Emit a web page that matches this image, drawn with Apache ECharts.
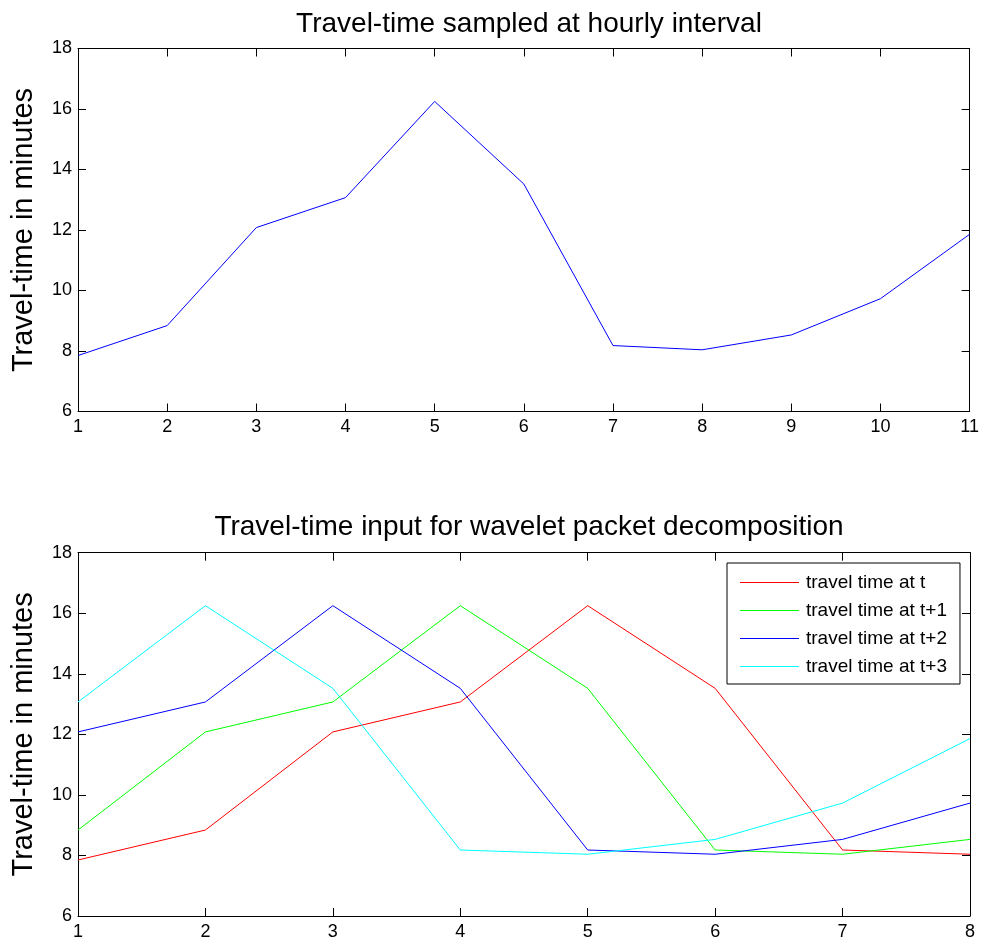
<!DOCTYPE html>
<html>
<head>
<meta charset="utf-8">
<script src="https://cdn.jsdelivr.net/npm/echarts@6/dist/echarts.min.js"></script>
<style>
html,body{margin:0;padding:0;background:#fff;}
#chart{width:982px;height:945px;}
</style>
</head>
<body>
<div id="chart"></div>
<script>
// ---- data ----
var hourLabels = ['1','2','3','4','5','6','7','8','9','10','11'];
var travelTime = [7.85, 8.84, 12.08, 13.07, 16.25, 13.52, 8.18, 8.04, 8.53, 9.73, 11.86];

var lagLabels = ['1','2','3','4','5','6','7','8'];
var tAt  = [7.85, 8.84, 12.08, 13.07, 16.25, 13.52, 8.18, 8.04];
var tAt1 = [8.84, 12.08, 13.07, 16.25, 13.52, 8.18, 8.04, 8.53];
var tAt2 = [12.08, 13.07, 16.25, 13.52, 8.18, 8.04, 8.53, 9.73];
var tAt3 = [13.07, 16.25, 13.52, 8.18, 8.04, 8.53, 9.73, 11.86];

var yMin = 6, yMax = 18, yStep = 2;
var titles = ['Travel-time sampled at hourly interval', 'Travel-time input for wavelet packet decomposition'];
var yName = 'Travel-time in minutes';
var legendNames = ['travel time at t', 'travel time at t+1', 'travel time at t+2', 'travel time at t+3'];

// ---- chart ----
var FONT = '"Liberation Sans", Arial, Helvetica, sans-serif';
var chart = echarts.init(document.getElementById('chart'));

function xAx(gridIndex, data, pos, showLabel) {
  return {
    type: 'category', gridIndex: gridIndex, data: data, boundaryGap: false, position: pos,
    axisLine: { show: true, lineStyle: { color: '#000', width: 1 } },
    axisTick: { show: true, inside: true, length: 8, alignWithLabel: true, lineStyle: { color: '#000' } },
    axisLabel: { show: showLabel, color: '#000', fontSize: 18, fontFamily: FONT, margin: 7 },
    splitLine: { show: false }
  };
}
function yAx(gridIndex, pos, showLabel) {
  var a = {
    type: 'value', gridIndex: gridIndex, min: yMin, max: yMax, interval: yStep, position: pos,
    axisLine: { show: true, lineStyle: { color: '#000', width: 1 } },
    axisTick: { show: true, inside: true, length: 8, lineStyle: { color: '#000' } },
    axisLabel: { show: showLabel, color: '#000', fontSize: 18, fontFamily: FONT, margin: 6 },
    splitLine: { show: false }
  };
  if (showLabel) {
    a.name = yName;
    a.nameLocation = 'middle';
    a.nameGap = 40;
    a.nameTextStyle = { color: '#000', fontSize: 29, fontFamily: FONT };
  }
  return a;
}

var option = {
  animation: false,
  backgroundColor: '#fff',
  title: [
    { text: titles[0], left: 524, textAlign: 'center', top: 5,
      textStyle: { color: '#000', fontSize: 28, fontWeight: 'normal', fontFamily: FONT } },
    { text: titles[1], left: 524, textAlign: 'center', top: 508,
      textStyle: { color: '#000', fontSize: 28, fontWeight: 'normal', fontFamily: FONT } }
  ],
  grid: [
    { left: 78, top: 48.5, width: 892, height: 363, containLabel: false },
    { left: 78, top: 552.7, width: 892, height: 363.3, containLabel: false }
  ],
  legend: {
    data: legendNames,
    orient: 'vertical',
    left: 727, top: 563,
    padding: [10, 13, 8, 13],
    icon: 'rect',
    itemWidth: 59, itemHeight: 1, itemGap: 9,
    backgroundColor: '#fff',
    borderColor: '#000', borderWidth: 1,
    textStyle: { color: '#000', fontSize: 19, lineHeight: 19, fontFamily: FONT, padding: [0, 0, 0, 2] }
  },
  xAxis: [
    xAx(0, hourLabels, 'bottom', true),
    xAx(0, hourLabels, 'top', false),
    xAx(1, lagLabels, 'bottom', true),
    xAx(1, lagLabels, 'top', false)
  ],
  yAxis: [
    yAx(0, 'left', true),
    yAx(0, 'right', false),
    yAx(1, 'left', true),
    yAx(1, 'right', false)
  ],
  series: [
    { type: 'line', xAxisIndex: 0, yAxisIndex: 0, data: travelTime, symbol: 'none',
      lineStyle: { color: '#0000ff', width: 1 }, itemStyle: { color: '#0000ff' } },
    { name: legendNames[0], type: 'line', xAxisIndex: 2, yAxisIndex: 2, data: tAt, symbol: 'none',
      lineStyle: { color: '#ff0000', width: 1 }, itemStyle: { color: '#ff0000' } },
    { name: legendNames[1], type: 'line', xAxisIndex: 2, yAxisIndex: 2, data: tAt1, symbol: 'none',
      lineStyle: { color: '#00ff00', width: 1 }, itemStyle: { color: '#00ff00' } },
    { name: legendNames[2], type: 'line', xAxisIndex: 2, yAxisIndex: 2, data: tAt2, symbol: 'none',
      lineStyle: { color: '#0000ff', width: 1 }, itemStyle: { color: '#0000ff' } },
    { name: legendNames[3], type: 'line', xAxisIndex: 2, yAxisIndex: 2, data: tAt3, symbol: 'none',
      lineStyle: { color: '#00ffff', width: 1 }, itemStyle: { color: '#00ffff' } }
  ]
};
chart.setOption(option);
</script>
</body>
</html>
